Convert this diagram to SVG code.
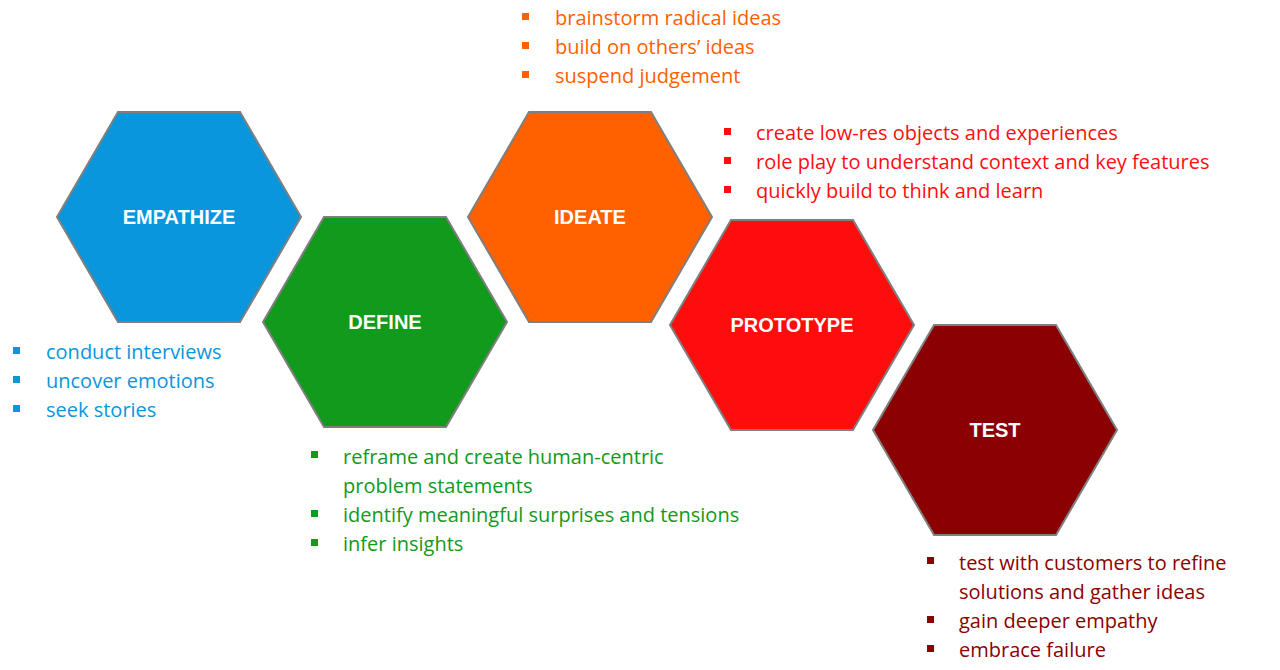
<svg xmlns="http://www.w3.org/2000/svg" width="1280" height="670" viewBox="0 0 1280 670">
<style>
.hex{stroke:#7f7f7f;stroke-width:2}
.lbl{font-family:"Liberation Sans",Arial,sans-serif;font-weight:bold;font-size:20px;fill:#fff;text-anchor:middle}
.t{font-family:"Open Sans","Liberation Sans",sans-serif;font-size:20px}
</style>
<rect width="1280" height="670" fill="#fff"/>
<g id="empathize"><polygon class="hex" fill="#0a96dc" points="57,217 118,112 240,112 301,217 240,322 118,322"/><text class="lbl" x="179" y="224">EMPATHIZE</text></g>
<g id="define"><polygon class="hex" fill="#119a1b" points="263,322 324,217 446,217 507,322 446,427 324,427"/><text class="lbl" x="385" y="329">DEFINE</text></g>
<g id="ideate"><polygon class="hex" fill="#ff6000" points="468,217 529,112 651,112 712,217 651,322 529,322"/><text class="lbl" x="590" y="224">IDEATE</text></g>
<g id="prototype"><polygon class="hex" fill="#ff0d0d" points="670,325 731,220 853,220 914,325 853,430 731,430"/><text class="lbl" x="792" y="332">PROTOTYPE</text></g>
<g id="test"><polygon class="hex" fill="#8b0000" points="873,430 934,325 1056,325 1117,430 1056,535 934,535"/><text class="lbl" x="995" y="437">TEST</text></g>
<g id="connectors"/>
<g fill="#0a96dc"><rect x="13" y="347" width="7" height="7"/><rect x="13" y="376" width="7" height="7"/><rect x="13" y="405" width="7" height="7"/>
<text class="t" x="46" y="359">conduct interviews</text><text class="t" x="46" y="388">uncover emotions</text><text class="t" x="46" y="417">seek stories</text></g>
<g fill="#119a1b"><rect x="311" y="451" width="7" height="7"/><rect x="311" y="510" width="7" height="7"/><rect x="311" y="539" width="7" height="7"/>
<text class="t" x="343" y="464">reframe and create human-centric</text><text class="t" x="343" y="493">problem statements</text><text class="t" x="343" y="522">identify meaningful surprises and tensions</text><text class="t" x="343" y="551">infer insights</text></g>
<g fill="#ff6000"><rect x="522" y="13" width="7" height="7"/><rect x="522" y="42" width="7" height="7"/><rect x="522" y="71" width="7" height="7"/>
<text class="t" x="555" y="25">brainstorm radical ideas</text><text class="t" x="555" y="54">build on others’ ideas</text><text class="t" x="555" y="83">suspend judgement</text></g>
<g fill="#ff0d0d"><rect x="724" y="128" width="7" height="7"/><rect x="724" y="157" width="7" height="7"/><rect x="724" y="186" width="7" height="7"/>
<text class="t" x="756" y="140">create low-res objects and experiences</text><text class="t" x="756" y="169">role play to understand context and key features</text><text class="t" x="756" y="198">quickly build to think and learn</text></g>
<g fill="#8b0000"><rect x="927" y="557" width="7" height="7"/><rect x="927" y="616" width="7" height="7"/><rect x="927" y="645" width="7" height="7"/>
<text class="t" x="959" y="570">test with customers to refine</text><text class="t" x="959" y="599">solutions and gather ideas</text><text class="t" x="959" y="628">gain deeper empathy</text><text class="t" x="959" y="657">embrace failure</text></g>
</svg>
